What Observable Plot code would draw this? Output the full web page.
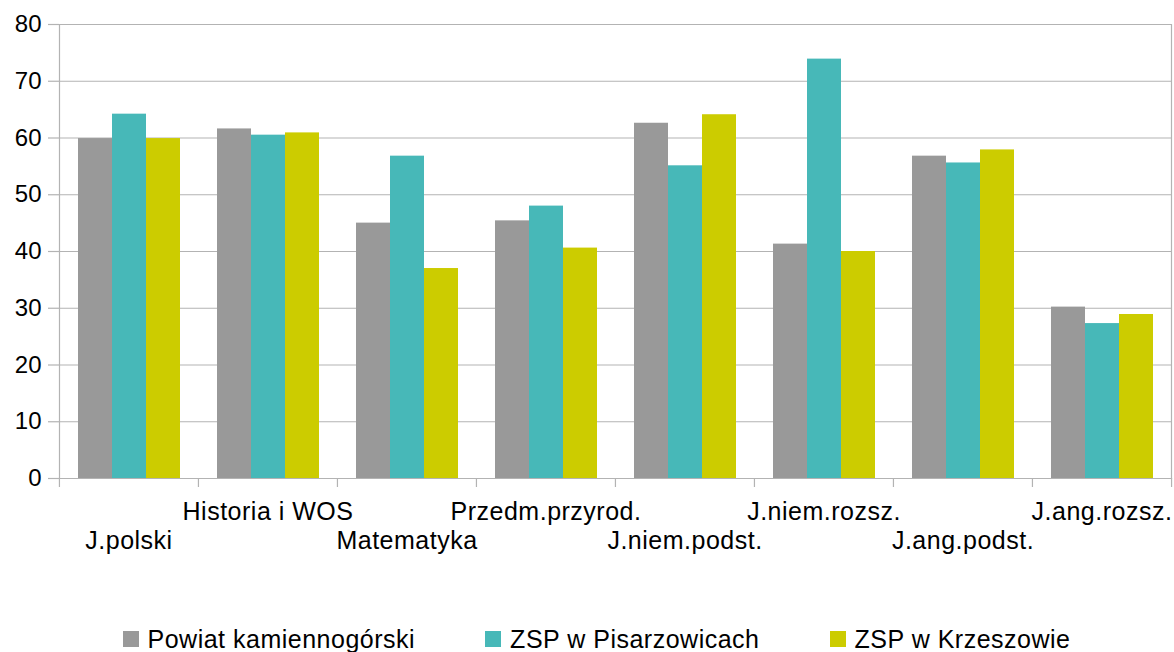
<!DOCTYPE html>
<html>
<head>
<meta charset="utf-8">
<script src="https://cdn.jsdelivr.net/npm/d3@7"></script>
<script src="https://cdn.jsdelivr.net/npm/@observablehq/plot@0.6"></script>
<style>
  html, body { margin: 0; padding: 0; background: #fff; overflow: hidden; }
  body { font-family: "Liberation Sans", Arial, sans-serif; position: relative; width: 1174px; height: 652px; }
  #legend { position: absolute; top: 624px; left: 0; width: 1174px; box-sizing: border-box; padding-left: 19px; display: flex; justify-content: center; gap: 70px; font-size: 25px; letter-spacing: 0.5px; line-height: 30px; color: #000; }
  .item { display: flex; align-items: center; gap: 9px; }
  .sw { width: 16px; height: 16px; display: inline-block; }
  .fxlab text { letter-spacing: 0.5px; }
</style>
</head>
<body>
<div id="chart"></div>
<div id="legend"></div>
<script>
const categories = ["J.polski", "Historia i WOS", "Matematyka", "Przedm.przyrod.", "J.niem.podst.", "J.niem.rozsz.", "J.ang.podst.", "J.ang.rozsz."];
const series = ["Powiat kamiennogórski", "ZSP w Pisarzowicach", "ZSP w Krzeszowie"];
const powiat      = [59.9, 61.6, 45.0, 45.4, 62.6, 41.3, 56.8, 30.2];
const pisarzowice = [64.2, 60.5, 56.8, 48.0, 55.1, 73.9, 55.6, 27.3];
const krzeszow    = [59.9, 60.9, 37.0, 40.6, 64.1, 40.0, 57.9, 28.9];
const colors = ["#999999", "#47b8b8", "#cccc00"];
const yTicks = [0, 10, 20, 30, 40, 50, 60, 70, 80];

const seriesValues = [powiat, pisarzowice, krzeszow];
const data = categories.flatMap((c, i) => series.map((s, j) => ({category: c, series: s, value: seriesValues[j][i]})));

const W = 1174, H = 600, ML = 58, MR = 3;
const step = (W - ML - MR) / categories.length;
const gridColor = "#b3b3b3";

const chart = Plot.plot({
  width: W, height: H,
  marginTop: 24, marginBottom: 122, marginLeft: ML, marginRight: MR,
  style: {fontFamily: "'Liberation Sans', Arial, sans-serif", fontSize: "24px", color: "black", background: "white"},
  fx: {domain: categories, padding: 0, axis: null, label: null},
  x: {domain: series, paddingInner: 0, paddingOuter: 0.5, axis: null, label: null},
  y: {domain: [0, 80], axis: null, label: null},
  color: {domain: series, range: colors},
  marks: [
    Plot.gridY(yTicks, {stroke: gridColor, strokeOpacity: 1, strokeWidth: 1.2}),
    Plot.frame({anchor: "left", stroke: gridColor, strokeWidth: 1.2, facetAnchor: "left"}),
    Plot.frame({anchor: "right", stroke: gridColor, strokeWidth: 1.2, facetAnchor: "right"}),
    Plot.barY(data, {fx: "category", x: "series", y: "value", fill: "series"}),
    Plot.axisY(yTicks, {tickSize: 11, tickPadding: 7, stroke: gridColor, fill: "black", fontSize: 24, label: null, strokeWidth: 1.2}),
    Plot.axisFx({anchor: "bottom", tickSize: 9, tickFormat: () => "", dx: -step / 2, stroke: gridColor, strokeWidth: 1.2, label: null}),
    Plot.axisFx({anchor: "bottom", ticks: [categories[categories.length - 1]], tickSize: 9, tickFormat: () => "", dx: step / 2, stroke: gridColor, strokeWidth: 1.2, label: null}),
    Plot.axisFx({anchor: "bottom", ticks: categories.filter((d, i) => i % 2 === 1), tickSize: 0, tickPadding: 24, fontSize: 25, fill: "black", label: null, className: "fxlab"}),
    Plot.axisFx({anchor: "bottom", ticks: categories.filter((d, i) => i % 2 === 0), tickSize: 0, tickPadding: 53, fontSize: 25, fill: "black", label: null, className: "fxlab"})
  ]
});
document.getElementById("chart").append(chart);

const legend = document.getElementById("legend");
series.forEach((s, i) => {
  const item = document.createElement("div");
  item.className = "item";
  const sw = document.createElement("span");
  sw.className = "sw";
  sw.style.background = colors[i];
  const t = document.createElement("span");
  t.textContent = s;
  item.append(sw, t);
  legend.append(item);
});
</script>
</body>
</html>
